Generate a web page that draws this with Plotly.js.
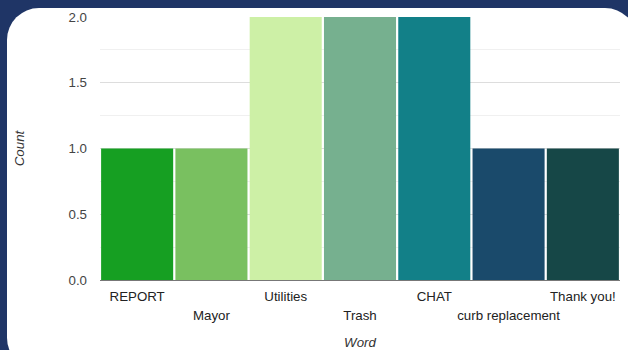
<!DOCTYPE html>
<html>
<head>
<meta charset="utf-8">
<script src="https://cdn.plot.ly/plotly-3.0.1.min.js"></script>
<style>
html,body{margin:0;padding:0;width:628px;height:350px;overflow:hidden;background:#1f3566;}
#card{position:absolute;left:7px;top:8px;width:630px;height:362px;background:#ffffff;border-radius:32px;}
#chart{position:absolute;left:0;top:0;width:628px;height:350px;}
</style>
</head>
<body>
<div id="card"></div>
<div id="chart"></div>
<script>
const words = ["REPORT", "Mayor", "Utilities", "Trash", "CHAT", "curb replacement", "Thank you!"];
const counts = [1, 1, 2, 2, 2, 1, 1];
const barColors = ["#169f22", "#79c060", "#cdf0a6", "#76b08f", "#128088", "#1a4a6b", "#164747"];

const idx = words.map((w, i) => i);
const rowA = idx.filter(i => i % 2 === 0);
const rowB = idx.filter(i => i % 2 === 1);

const trace = {
  type: "bar",
  x: idx,
  y: counts,
  marker: {color: barColors, line: {width: 0}},
  hoverinfo: "none"
};

// invisible companion trace so the second (staggered) label row axis is drawn
const labelRowTrace = {
  type: "scatter",
  mode: "markers",
  x: idx,
  y: counts,
  xaxis: "x2",
  yaxis: "y",
  marker: {opacity: 0, size: 1},
  hoverinfo: "none",
  showlegend: false
};

const FS = 13.3;

const layout = {
  width: 628, height: 350,
  margin: {l: 100, r: 8, t: 17, b: 70},
  paper_bgcolor: "rgba(0,0,0,0)",
  plot_bgcolor: "rgba(0,0,0,0)",
  font: {family: "Liberation Sans, Arial, sans-serif", size: FS, color: "#444"},
  bargap: 0.03,
  showlegend: false,
  xaxis: {
    type: "linear",
    range: [-0.5, words.length - 0.5],
    tickmode: "array",
    tickvals: rowA,
    ticktext: rowA.map(i => words[i]),
    tickangle: 0,
    showgrid: false,
    zeroline: false,
    ticks: "",
    ticklabelstandoff: 4,
    tickfont: {size: FS, color: "#222"},
    showline: true, linecolor: "#777", linewidth: 1,
    title: {text: "Word", font: {size: FS, style: "italic", color: "#333"}, standoff: 34},
    automargin: false
  },
  xaxis2: {
    overlaying: "x",
    anchor: "y",
    side: "bottom",
    type: "linear",
    range: [-0.5, words.length - 0.5],
    tickmode: "array",
    tickvals: rowB,
    ticktext: rowB.map(i => words[i]),
    tickangle: 0,
    showgrid: false,
    zeroline: false,
    showline: false,
    ticks: "",
    ticklabelstandoff: 26,
    tickfont: {size: FS, color: "#222"},
    automargin: false
  },
  yaxis: {
    range: [0, 2],
    dtick: 0.5,
    tickformat: ".1f",
    gridcolor: "#dddddd",
    gridwidth: 1,
    zeroline: false,
    ticks: "",
    ticklabelstandoff: 12,
    tickfont: {size: FS, color: "#444"},
    minor: {dtick: 0.25, showgrid: true, gridcolor: "#f0f0f0", gridwidth: 1},
    title: {text: "Count", font: {size: FS, style: "italic", color: "#333"}, standoff: 40},
    automargin: false
  }
};

Plotly.newPlot("chart", [trace, labelRowTrace], layout, {displayModeBar: false, staticPlot: true});
</script>
</body>
</html>
